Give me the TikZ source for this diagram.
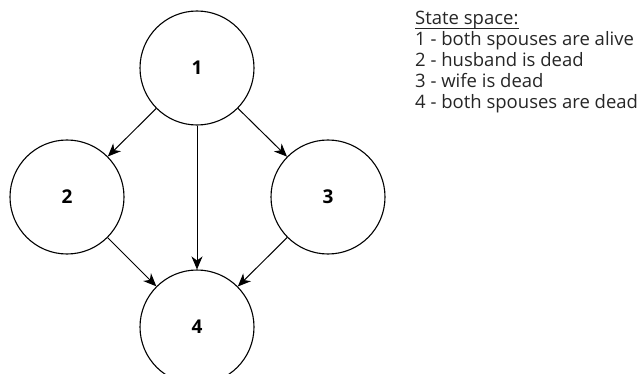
\documentclass[tikz,border=0pt]{standalone}
\usepackage{fontspec}
\setmainfont{Open Sans}
\usetikzlibrary{arrows.meta}
\begin{document}
\begin{tikzpicture}[x=1pt,y=1pt,
  state/.style={circle,draw,line width=1.1pt,minimum size=114pt,inner sep=0pt,
    font=\fontsize{19}{21}\selectfont\bfseries},
  trans/.style={line width=1pt,-{Stealth[length=13pt,width=11pt,inset=4pt]}},
  legend/.style={anchor=base west,inner sep=0pt,font=\fontsize{18.5}{21}\selectfont,text=black!85},
  uline/.style={line width=0.8pt,draw=black!85}
]
\useasboundingbox (0,0) rectangle (643,373);
\node[state] (n1) at (197,305) {1};
\node[state] (n2) at (67,176) {2};
\node[state] (n3) at (328,176) {3};
\node[state] (n4) at (197,46) {4};
\draw[trans] (n1) -- (n2);
\draw[trans] (n1) -- (n3);
\draw[trans] (n1) -- (n4);
\draw[trans] (n2) -- (n4);
\draw[trans] (n3) -- (n4);
\node[legend] (t0) at (415,348) {State space:};
\draw[uline] ([yshift=-3pt]t0.base west) -- ([yshift=-3pt]t0.base east);
\node[legend] (t1) at (415,327) {1 - both spouses are alive};
\node[legend] (t2) at (415,306.3) {2 - husband is dead};
\node[legend] (t3) at (415,285.7) {3 - wife is dead};
\node[legend] (t4) at (415,265) {4 - both spouses are dead};
\end{tikzpicture}
\end{document}
